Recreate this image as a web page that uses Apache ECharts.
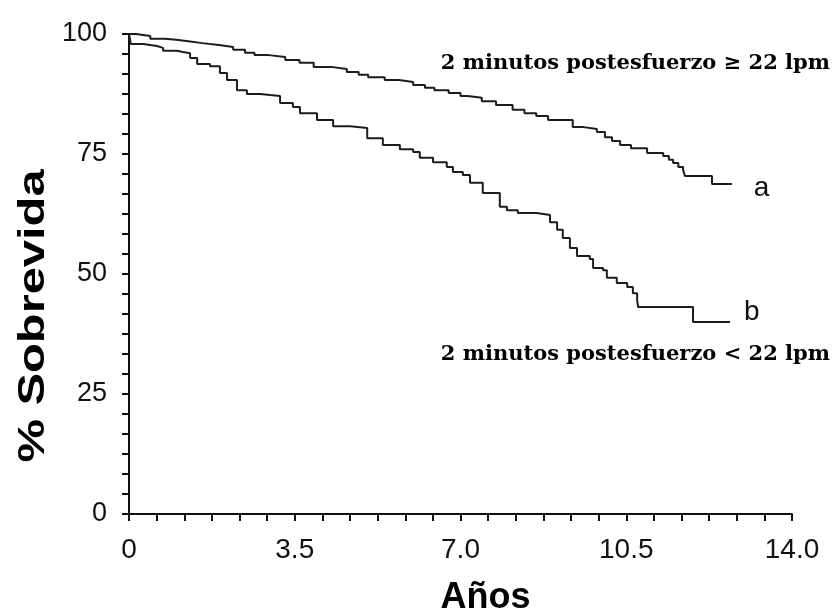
<!DOCTYPE html>
<html>
<head>
<meta charset="utf-8">
<script src="https://cdn.jsdelivr.net/npm/echarts@6/dist/echarts.min.js"></script>
<style>
html,body{margin:0;padding:0;background:#fff;}
#chart{width:834px;height:610px;}
</style>
</head>
<body>
<div id="chart"></div>
<script>
// Curve a: 2 minutos postesfuerzo >= 22 lpm
const yearsA = [0,0.15,0.45,0.75,1.0,1.25,1.55,1.9,2.2,2.45,2.65,2.95,3.3,3.6,3.9,4.3,4.6,4.85,5.05,5.4,5.7,6.0,6.25,6.45,6.75,7.0,7.15,7.45,7.75,8.1,8.35,8.6,8.85,9.37,9.6,9.88,10.05,10.2,10.37,10.6,10.94,11.28,11.4,11.49,11.6,11.7,11.74,12.31,12.73];
const survA  = [100,99.6,99.0,98.8,98.5,98.1,97.7,97.3,96.7,96.1,95.6,95.2,94.6,94.0,93.1,92.7,92.1,91.5,91.0,90.4,90.0,89.4,88.8,88.3,87.7,87.1,86.7,86.0,85.2,84.2,83.5,82.9,82.1,80.6,80.2,79.6,78.5,77.7,76.9,76.2,75.2,74.6,73.8,73.1,72.3,71.7,70.4,68.75,68.75];
// Curve b: 2 minutos postesfuerzo < 22 lpm
const yearsB = [0,0.04,0.30,0.59,0.72,1.01,1.14,1.29,1.44,1.71,1.92,2.07,2.28,2.49,2.77,3.19,3.46,3.61,3.97,4.31,4.67,5.03,5.36,5.72,6.00,6.14,6.42,6.71,6.84,7.05,7.20,7.47,7.83,7.98,8.21,8.61,8.89,9.04,9.16,9.31,9.46,9.73,9.80,10.01,10.09,10.30,10.52,10.64,10.73,10.75,11.91,12.69];
const survB  = [100,97.9,97.5,97.1,96.5,96.25,96.0,95.0,93.75,93.3,91.9,90.4,88.3,87.5,87.1,85.6,84.8,83.5,82.1,80.8,80.4,78.3,76.9,76.0,75.4,74.2,73.3,72.3,71.25,70.6,69.0,66.9,64.0,63.3,62.7,62.3,60.8,59.2,57.5,55.4,53.75,53.1,51.25,50.8,49.2,48.1,47.3,46.0,44.6,43.1,40.0,40.0];

const xTickValues = [0,3.5,7,10.5,14];
const xTickLabels = ['0','3.5','7.0','10.5','14.0'];
const yTickLabels = ['0','25','50','75','100'];
const curveLabels = ['a','b'];
const yTitle = '% Sobrevida';
const xTitle = 'Años';
const annotA = '2 minutos postesfuerzo \u2265 22 lpm';
const annotB = '2 minutos postesfuerzo < 22 lpm';

const zip = (xs, ys) => xs.map((x, i) => [x, ys[i]]);

const chart = echarts.init(document.getElementById('chart'));
const lineCol = '#1c1c1c';
const sans = 'Liberation Sans, Arial, sans-serif';
const series = [[yearsA, survA], [yearsB, survB]].map((d, i) => ({
  type: 'line',
  step: 'end',
  showSymbol: false,
  data: zip(d[0], d[1]),
  lineStyle: {color: lineCol, width: 2},
  itemStyle: {color: lineCol},
  endLabel: {
    show: true,
    formatter: curveLabels[i],
    distance: i === 0 ? 22 : 14,
    offset: i === 0 ? [0, 4] : [0, -10],
    fontFamily: sans,
    fontSize: 28,
    color: '#111'
  },
  emphasis: {disabled: true}
}));

chart.setOption({
  animation: false,
  backgroundColor: '#fff',
  grid: {left: 129, right: 42, top: 34, bottom: 96, containLabel: false, outerBoundsMode: 'none'},
  xAxis: {
    type: 'value', min: 0, max: 14, interval: 3.5,
    axisLine: {show: true, lineStyle: {color: '#111', width: 2}},
    axisTick: {show: true, length: 7, lineStyle: {color: '#111', width: 2}},
    minorTick: {show: true, splitNumber: 6, length: 7, lineStyle: {color: '#111', width: 2}},
    splitLine: {show: false},
    axisLabel: {
      margin: 22, fontSize: 28, color: '#111', fontFamily: sans,
      formatter: v => { const k = xTickValues.indexOf(v); return k >= 0 ? xTickLabels[k] : ''; }
    },
    name: xTitle, nameLocation: 'middle', nameGap: 66,
    nameTextStyle: {fontSize: 36, fontWeight: 'bold', color: '#000', fontFamily: sans, padding: [0, 0, 0, 50]}
  },
  yAxis: {
    type: 'value', min: 0, max: 100, interval: 25,
    axisLine: {show: true, lineStyle: {color: '#111', width: 2}},
    axisTick: {show: true, length: 7, lineStyle: {color: '#111', width: 2}},
    minorTick: {show: true, splitNumber: 6, length: 7, lineStyle: {color: '#111', width: 2}},
    splitLine: {show: false},
    axisLabel: {
      margin: 22, fontSize: 27, color: '#111', fontFamily: sans,
      formatter: v => yTickLabels[Math.round(v / 25)]
    }
  },
  series: series,
  graphic: [
    {type: 'text', x: 34, y: 316, rotation: Math.PI / 2, scaleX: 1.32,
     style: {text: yTitle, fontFamily: sans, fontWeight: 'bold', fontSize: 37, fill: '#000', align: 'center', verticalAlign: 'middle'}},
    {type: 'text', right: 4, top: 53, style: {text: annotA, fontFamily: 'DejaVu Serif, serif', fontWeight: 'bold', fontSize: 21, fill: '#000'}},
    {type: 'text', right: 4, top: 344, style: {text: annotB, fontFamily: 'DejaVu Serif, serif', fontWeight: 'bold', fontSize: 21, fill: '#000'}}
  ]
});
</script>
</body>
</html>
